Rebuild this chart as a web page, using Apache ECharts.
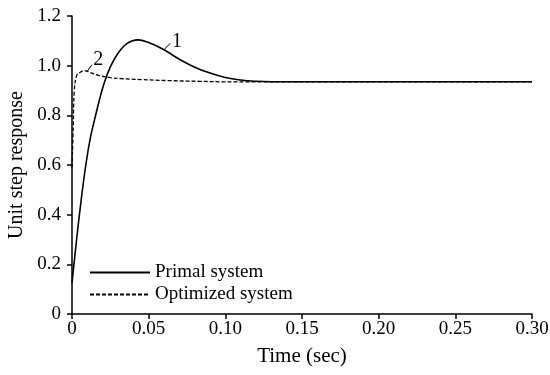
<!DOCTYPE html>
<html>
<head>
<meta charset="utf-8">
<script src="https://cdn.jsdelivr.net/npm/echarts@6/dist/echarts.min.js"></script>
<style>
  html, body { margin: 0; padding: 0; background: #fff; }
  #chart { width: 550px; height: 375px; }
</style>
</head>
<body>
<div id="chart"></div>
<script>
// 数据：时间 (sec) 与单位阶跃响应
const primalTime  = [0, 0.003, 0.006, 0.009, 0.012, 0.015, 0.018, 0.021, 0.025, 0.03, 0.036, 0.043, 0.05, 0.06, 0.07, 0.08, 0.09, 0.1, 0.11, 0.12, 0.13, 0.3];
const primalValue = [0.125, 0.30, 0.46, 0.60, 0.71, 0.79, 0.865, 0.93, 0.995, 1.05, 1.09, 1.104, 1.093, 1.064, 1.026, 0.994, 0.97, 0.952, 0.942, 0.937, 0.935, 0.935];

const optTime  = [0, 0.0008, 0.0015, 0.003, 0.005, 0.008, 0.012, 0.018, 0.025, 0.032, 0.045, 0.062, 0.083, 0.1, 0.3];
const optValue = [0.59, 0.75, 0.9, 0.96, 0.972, 0.98, 0.972, 0.96, 0.952, 0.948, 0.944, 0.94, 0.937, 0.935, 0.935];

const seriesNames = ['Primal system', 'Optimized system'];

// 曲线编号标注 (数据坐标)
const label1Leader = [[0.060, 1.064], [0.064, 1.09]];
const label1Pos = [0.0685, 1.095];
const label2Leader = [[0.0098, 0.976], [0.013, 1.004]];
const label2Pos = [0.0172, 1.022];

const zip = (xs, ys) => xs.map((x, i) => [x, ys[i]]);

const font = 'Liberation Serif';
const chart = echarts.init(document.getElementById('chart'));

const annotation = (leader, pos, text) => ({
  markLine: {
    silent: true,
    symbol: 'none',
    label: { show: false },
    lineStyle: { color: '#000', width: 1, type: 'solid' },
    animation: false,
    data: [[{ coord: leader[0] }, { coord: leader[1] }]]
  },
  markPoint: {
    silent: true,
    symbol: 'circle',
    symbolSize: 0,
    label: { show: true, formatter: text, color: '#000', fontFamily: font, fontSize: 20, position: 'inside' },
    data: [{ coord: pos }]
  }
});

chart.setOption({
  animation: false,
  grid: { left: 72, right: 18, top: 16, bottom: 61, containLabel: false, outerBoundsMode: 'none' },
  legend: {
    orient: 'vertical',
    left: 89,
    top: 263,
    padding: 0,
    itemWidth: 60,
    itemHeight: 10,
    itemGap: 3,
    itemStyle: { opacity: 0 },
    textStyle: { fontFamily: font, fontSize: 19, color: '#000' },
    data: seriesNames
  },
  xAxis: {
    type: 'value',
    min: 0,
    max: 0.3,
    interval: 0.05,
    name: 'Time (sec)',
    nameLocation: 'middle',
    nameGap: 32,
    nameTextStyle: { fontFamily: font, fontSize: 21, color: '#000' },
    axisLine: { onZero: false, lineStyle: { color: '#000', width: 1.5 } },
    axisTick: { show: true, length: 5, lineStyle: { color: '#000', width: 1.5 } },
    axisLabel: {
      fontFamily: font, fontSize: 19, color: '#000', margin: 6,
      formatter: v => v === 0 ? '0' : v.toFixed(2)
    },
    splitLine: { show: false }
  },
  yAxis: {
    type: 'value',
    min: 0,
    max: 1.2,
    interval: 0.2,
    name: 'Unit step response',
    nameLocation: 'middle',
    nameGap: 43,
    nameTextStyle: { fontFamily: font, fontSize: 20, color: '#000' },
    axisLine: { show: true, lineStyle: { color: '#000', width: 1.5 } },
    axisTick: { show: true, length: 5, lineStyle: { color: '#000', width: 1.5 } },
    axisLabel: {
      fontFamily: font, fontSize: 19, color: '#000', margin: 11,
      formatter: v => v === 0 ? '0' : v.toFixed(1)
    },
    splitLine: { show: false }
  },
  series: [
    Object.assign({
      name: seriesNames[0],
      type: 'line',
      data: zip(primalTime, primalValue),
      smooth: 0.4,
      symbol: 'none',
      lineStyle: { color: '#000', width: 1.6 },
      itemStyle: { color: '#000' }
    }, annotation(label1Leader, label1Pos, '1')),
    Object.assign({
      name: seriesNames[1],
      type: 'line',
      data: zip(optTime, optValue),
      smooth: 0.4,
      symbol: 'none',
      lineStyle: { color: '#000', width: 1.3, type: [4, 2] },
      itemStyle: { color: '#000' }
    }, annotation(label2Leader, label2Pos, '2'))
  ]
});
</script>
</body>
</html>
